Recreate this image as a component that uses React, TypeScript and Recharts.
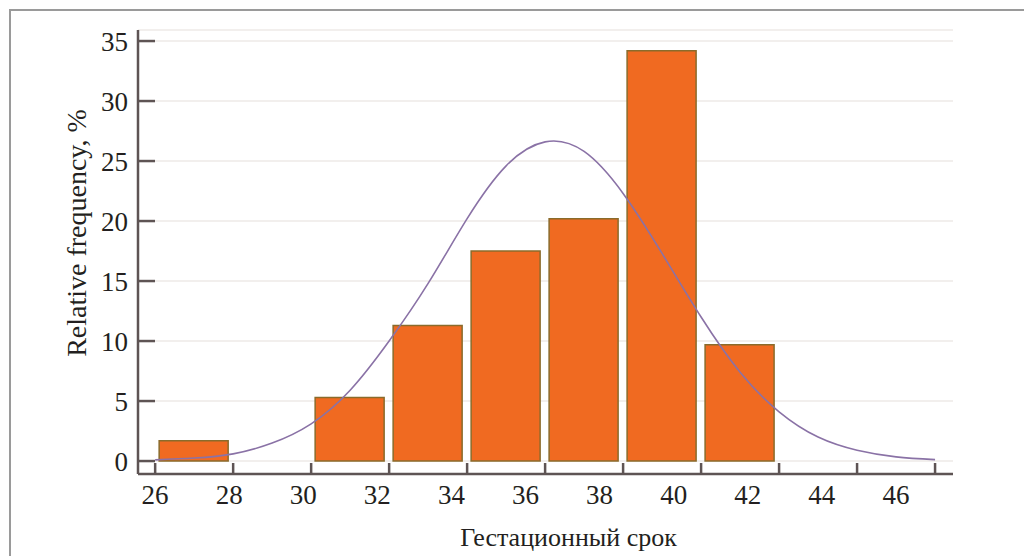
import React from 'react';
import { ComposedChart, Bar, Line, XAxis, YAxis, CartesianGrid } from 'recharts';

// Weeks at which the fitted curve was read
const weeks = [26, 27, 28, 29, 30, 31, 32, 33, 34, 35, 36, 37, 38, 39, 40, 41, 42, 43, 44, 45, 46];
// Fitted normal curve values, %
const curveValues = [0.1, 0.25, 0.6, 1.5, 3.1, 5.9, 10.0, 14.8, 20.2, 24.6, 26.6, 25.8, 22.3, 17.3, 12.0, 7.4, 4.1, 2.0, 0.9, 0.35, 0.12];
// Histogram bins (centres) and relative frequencies, %
const binCenters = [27, 31, 33, 35, 37, 39, 41];
const binFrequencies = [1.7, 5.3, 11.3, 17.5, 20.2, 34.2, 9.7];
// Tick labels
const xTicks = [26, 28, 30, 32, 34, 36, 38, 40, 42, 44, 46];
const yTicks = [0, 5, 10, 15, 20, 25, 30, 35];

const barData = binCenters.map((c, i) => ({ week: c, freq: binFrequencies[i] }));
const curveData = weeks.map((w, i) => ({ week: w, curve: curveValues[i] }));

const FONT = '"Liberation Serif", "Times New Roman", serif';
const AXIS = '#5e5454';
const TEXT = '#231f20';
const X_DOMAIN: [number, number] = [25.56, 46.46];

export default function App() {
  return (
    <div style={{ position: 'absolute', left: 0, top: 0, width: 1024, height: 556, background: '#fff' }}>
      <div style={{ position: 'absolute', left: 9, top: 9, width: 1015, height: 2, background: '#9a9a9a' }} />
      <div style={{ position: 'absolute', left: 9, top: 9, width: 2, height: 547, background: '#9a9a9a' }} />
      <div style={{ position: 'absolute', left: 0, top: 0 }}>
        <ComposedChart width={1024} height={556} data={barData} margin={{ top: 30, right: 71, bottom: 0, left: 0 }}>
          <CartesianGrid vertical={false} stroke="#f2efed" strokeWidth={2} />
          <XAxis
            dataKey="week"
            type="number"
            domain={X_DOMAIN}
            allowDataOverflow
            ticks={xTicks}
            tickFormatter={() => ''}
            tickSize={-11}
            height={6}
            axisLine={{ stroke: AXIS, strokeWidth: 2.5 }}
            tickLine={{ stroke: AXIS, strokeWidth: 2.5 }}
          />
          <XAxis xAxisId="curve" dataKey="week" type="number" domain={X_DOMAIN} allowDataOverflow hide height={0} />
          <XAxis
            xAxisId="lbl"
            dataKey="week"
            type="number"
            domain={[25.54, 47.54]}
            allowDataOverflow
            ticks={xTicks}
            axisLine={false}
            tickLine={false}
            tickSize={0}
            tickMargin={5}
            height={76}
            tick={{ fill: TEXT, fontSize: 27, fontFamily: FONT }}
            label={{
              value: 'Гестационный срок',
              position: 'insideBottom',
              offset: 10,
              dx: 23,
              style: { fill: TEXT, fontSize: 26, fontFamily: FONT },
            }}
          />
          <YAxis
            type="number"
            domain={[-1.08, 35.92]}
            allowDataOverflow
            ticks={yTicks}
            width={138}
            tickSize={-17}
            tickMargin={27}
            axisLine={{ stroke: AXIS, strokeWidth: 2.5 }}
            tickLine={{ stroke: AXIS, strokeWidth: 2.5 }}
            tick={{ fill: TEXT, fontSize: 27, fontFamily: FONT }}
            label={{
              value: 'Relative frequency, %',
              angle: -90,
              position: 'center',
              dx: 7,
              dy: -19,
              style: { fill: TEXT, fontSize: 28, fontFamily: FONT, textAnchor: 'middle' },
            }}
          />
          <Bar
            dataKey="freq"
            barSize={69}
            fill="#f06a21"
            stroke="#8a6b2b"
            strokeWidth={1.5}
            isAnimationActive={false}
          />
          <Line
            xAxisId="curve"
            data={curveData}
            dataKey="curve"
            type="natural"
            stroke="#8a72a6"
            strokeWidth={1.6}
            dot={false}
            activeDot={false}
            isAnimationActive={false}
          />
        </ComposedChart>
      </div>
    </div>
  );
}
